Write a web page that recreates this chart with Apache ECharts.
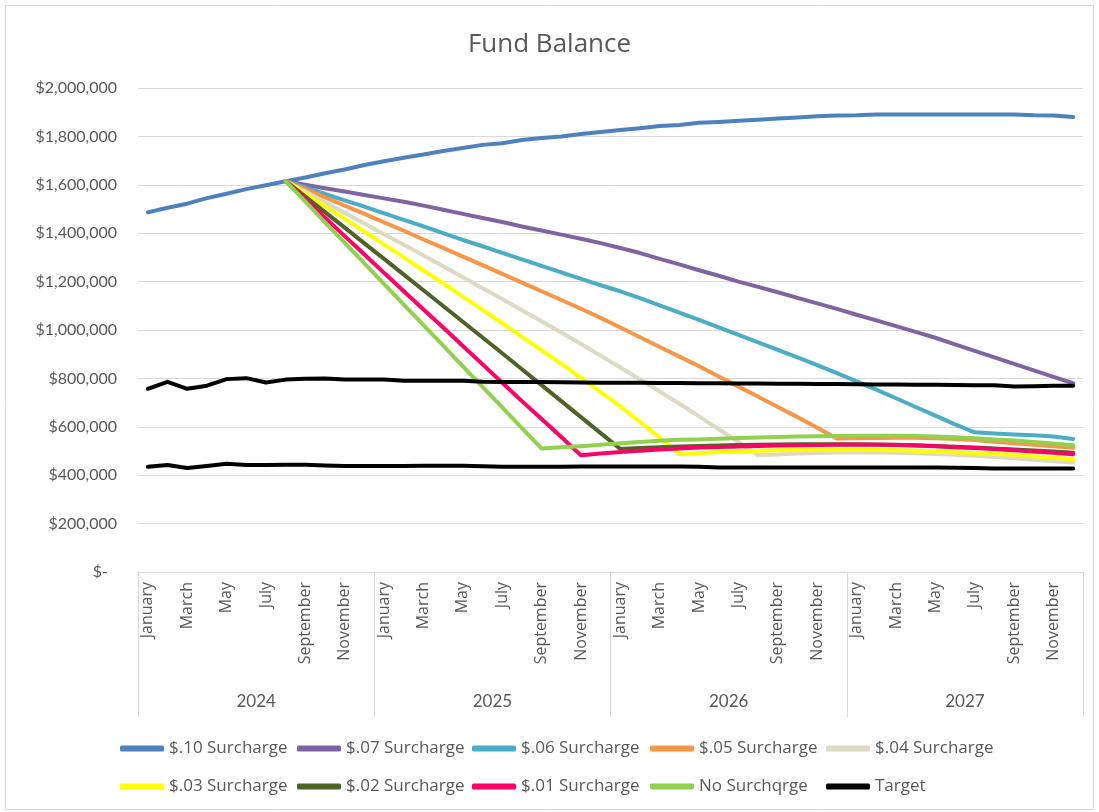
<!DOCTYPE html>
<html>
<head>
<meta charset="utf-8">
<title>Fund Balance</title>
<script src="https://cdn.jsdelivr.net/npm/echarts@6/dist/echarts.min.js"></script>
<style>
  html, body { margin: 0; padding: 0; background: #fff; }
  #chart { width: 1099px; height: 812px; }
</style>
</head>
<body>
<div id="chart"></div>
<script>
// category labels
var monthNames = ['January', 'February', 'March', 'April', 'May', 'June', 'July',
  'August', 'September', 'October', 'November', 'December'];
var years = ['2024', '2025', '2026', '2027'];

// series values (dollars), Jan 2024 .. Dec 2027
var surcharge10 = [1486000, 1505000, 1522000, 1545000, 1563000, 1582000, 1598000, 1615000, 1630000, 1648000, 1663000, 1682000,
  1697000, 1712000, 1725000, 1740000, 1752000, 1765000, 1772000, 1785000, 1793000, 1800000, 1810000, 1818000,
  1826000, 1834000, 1843000, 1847000, 1856000, 1860000, 1865000, 1869000, 1874000, 1878000, 1883000, 1886000,
  1887000, 1890000, 1891000, 1891000, 1891000, 1891000, 1891000, 1891000, 1891000, 1887000, 1886000, 1880000];
var surcharge07 = [null, null, null, null, null, null, null, 1615000, 1600000, 1586000, 1572000, 1558000,
  1544000, 1530000, 1514000, 1497000, 1480000, 1463000, 1446000, 1428000, 1411000, 1394000, 1377000, 1359000,
  1339000, 1318000, 1294000, 1271000, 1247000, 1224000, 1200000, 1178000, 1156000, 1133000, 1110000, 1087000,
  1063000, 1040000, 1016000, 992000, 968000, 941000, 914000, 887000, 860000, 833000, 806000, 780000];
var surcharge06 = [null, null, null, null, null, null, null, 1615000, 1590000, 1562000, 1536000, 1510000,
  1482000, 1455000, 1428000, 1400000, 1372000, 1346000, 1319000, 1292000, 1265000, 1238000, 1211000, 1185000,
  1160000, 1132000, 1102000, 1072000, 1042000, 1011000, 980000, 949000, 918000, 887000, 855000, 822000,
  788000, 754000, 718000, 682000, 646000, 610000, 577000, 572000, 568000, 565000, 560000, 550000];
var surcharge05 = [null, null, null, null, null, null, null, 1615000, 1582000, 1548000, 1514000, 1480000,
  1445000, 1410000, 1374000, 1339000, 1303000, 1268000, 1232000, 1196000, 1160000, 1124000, 1088000, 1050000,
  1010000, 970000, 930000, 890000, 850000, 808000, 766000, 724000, 682000, 640000, 596000, 552000,
  553000, 554000, 555000, 555000, 553000, 550000, 545000, 538000, 532000, 526000, 520000, 513000];
var surcharge04 = [null, null, null, null, null, null, null, 1615000, 1572000, 1528000, 1484000, 1440000,
  1396000, 1352000, 1308000, 1263000, 1218000, 1173000, 1128000, 1082000, 1036000, 990000, 942000, 894000,
  845000, 796000, 746000, 695000, 643000, 590000, 537000, 482000, 486000, 490000, 492000, 494000,
  494000, 494000, 493000, 491000, 488000, 484000, 480000, 475000, 470000, 464000, 458000, 452000];
var surcharge03 = [null, null, null, null, null, null, null, 1615000, 1563000, 1511000, 1459000, 1406000,
  1353000, 1300000, 1246000, 1192000, 1138000, 1083000, 1028000, 972000, 916000, 860000, 802000, 743000,
  684000, 620000, 555000, 488000, 492000, 496000, 499000, 501000, 503000, 504000, 505000, 505000,
  505000, 504000, 503000, 501000, 498000, 495000, 492000, 488000, 484000, 478000, 472000, 466000];
var surcharge02 = [null, null, null, null, null, null, null, 1615000, 1551000, 1487000, 1423000, 1358000,
  1294000, 1229000, 1164000, 1099000, 1034000, 969000, 904000, 838000, 772000, 706000, 640000, 574000,
  508000, 512000, 516000, 519000, 521000, 523000, 525000, 526000, 527000, 528000, 528000, 528000,
  528000, 527000, 526000, 524000, 521000, 518000, 514000, 510000, 506000, 502000, 498000, 493000];
var surcharge01 = [null, null, null, null, null, null, null, 1615000, 1540000, 1464000, 1388000, 1312000,
  1236000, 1160000, 1085000, 1010000, 934000, 858000, 782000, 706000, 632000, 558000, 482000, 490000,
  496000, 501000, 506000, 510000, 514000, 517000, 519000, 521000, 523000, 524000, 525000, 526000,
  526000, 526000, 525000, 523000, 520000, 516000, 512000, 508000, 503000, 498000, 493000, 487000];
var noSurcharge = [null, null, null, null, null, null, null, 1615000, 1530000, 1445000, 1360000, 1275000,
  1190000, 1105000, 1020000, 935000, 850000, 765000, 680000, 595000, 510000, 515000, 520000, 526000,
  532000, 537000, 542000, 546000, 548000, 551000, 554000, 556000, 558000, 560000, 561000, 562000,
  563000, 563000, 563000, 562000, 560000, 557000, 553000, 548000, 543000, 537000, 531000, 524000];
var targetHigh = [757000, 786000, 757000, 770000, 797000, 801000, 783000, 795000, 799000, 800000, 795000, 795000,
  795000, 790000, 790000, 790000, 790000, 786000, 785000, 785000, 785000, 784000, 783000, 782000,
  782000, 782000, 781000, 781000, 780000, 780000, 779000, 779000, 778000, 778000, 777000, 777000,
  776000, 775000, 775000, 774000, 774000, 773000, 772000, 772000, 767000, 768000, 770000, 770000];
var targetLow = [435000, 442000, 430000, 438000, 447000, 442000, 442000, 443000, 443000, 440000, 438000, 438000,
  438000, 438000, 439000, 439000, 439000, 437000, 435000, 435000, 435000, 435000, 436000, 436000,
  436000, 436000, 436000, 436000, 435000, 432000, 432000, 432000, 432000, 432000, 432000, 432000,
  432000, 432000, 432000, 432000, 432000, 431000, 430000, 428000, 428000, 428000, 428000, 428000];

var legendRows = [
  ['$.10 Surcharge', '$.07 Surcharge', '$.06 Surcharge', '$.05 Surcharge', '$.04 Surcharge'],
  ['$.03 Surcharge', '$.02 Surcharge', '$.01 Surcharge', 'No Surchqrge', 'Target']
];

var categories = [];
years.forEach(function (y) {
  monthNames.forEach(function (m) { categories.push(m); });
});

var txt = '#595959';
var gridColor = '#d9d9d9';
var font = 'Lato';

function line(name, data, color) {
  return {
    name: name,
    type: 'line',
    data: data,
    showSymbol: false,
    symbol: 'none',
    connectNulls: false,
    lineStyle: { width: 4, color: color, cap: 'round', join: 'round' },
    itemStyle: { color: color },
    emphasis: { disabled: true },
    z: 2
  };
}

// one legend per item so the entries sit in fixed columns like Excel
var colLeft = [115, 292, 467, 645, 821];
var rowTop = [735, 773];
var legends = [];
legendRows.forEach(function (row, r) {
  row.forEach(function (name, c) {
    legends.push({
      left: colLeft[c],
      top: rowTop[r],
      icon: 'roundRect',
      itemWidth: 44,
      itemHeight: 6,
      textStyle: { color: txt, fontFamily: 'Open Sans', fontSize: 17 },
      data: [name]
    });
  });
});

var chart = echarts.init(document.getElementById('chart'));
chart.setOption({
  animation: false,
  backgroundColor: '#fff',
  title: {
    text: 'Fund Balance',
    left: 'center',
    top: 27,
    textStyle: { color: txt, fontFamily: 'Open Sans', fontSize: 26, fontWeight: 'normal' }
  },
  graphic: [{
    type: 'rect',
    shape: { x: 5.5, y: 5.5, width: 1088, height: 804 },
    style: { fill: 'none', stroke: gridColor, lineWidth: 1 },
    silent: true
  }],
  legend: legends,
  grid: { left: 138, right: 16, top: 88, bottom: 240, containLabel: false },
  xAxis: [{
    type: 'category',
    data: categories,
    boundaryGap: true,
    axisLine: { lineStyle: { color: gridColor, width: 1 } },
    axisTick: { show: false },
    axisLabel: {
      interval: 1,
      rotate: 90,
      margin: 10,
      color: txt,
      fontFamily: 'Open Sans',
      fontSize: 16
    },
    splitLine: { show: false }
  }, {
    type: 'category',
    data: years,
    position: 'bottom',
    boundaryGap: true,
    axisLine: { show: false },
    axisTick: { show: true, interval: 0, length: 145, lineStyle: { color: gridColor, width: 1 } },
    axisLabel: { interval: 0, margin: 121, color: txt, fontFamily: font, fontSize: 17 },
    splitLine: { show: false }
  }],
  yAxis: {
    type: 'value',
    min: 0,
    max: 2000000,
    interval: 200000,
    axisLine: { show: false },
    axisTick: { show: false },
    axisLabel: {
      margin: 21,
      color: txt,
      fontFamily: font,
      fontSize: 16,
      formatter: function (v) {
        if (v === 0) return '{z|$-}';
        return '$' + v.toLocaleString('en-US');
      },
      rich: { z: { color: txt, fontFamily: font, fontSize: 16, padding: [0, 9, 0, 0] } }
    },
    splitLine: { lineStyle: { color: gridColor, width: 1 } }
  },
  series: [
    line('$.10 Surcharge', surcharge10, '#4f81bd'),
    line('$.07 Surcharge', surcharge07, '#8064a2'),
    line('$.06 Surcharge', surcharge06, '#4bacc6'),
    line('$.05 Surcharge', surcharge05, '#f79646'),
    line('$.04 Surcharge', surcharge04, '#ddd9c3'),
    line('$.03 Surcharge', surcharge03, '#ffff00'),
    line('$.02 Surcharge', surcharge02, '#4f6228'),
    line('$.01 Surcharge', surcharge01, '#ff0066'),
    line('No Surchqrge', noSurcharge, '#92d050'),
    line('Target', targetHigh, '#000000'),
    line('Target', targetLow, '#000000')
  ]
});
</script>
</body>
</html>
